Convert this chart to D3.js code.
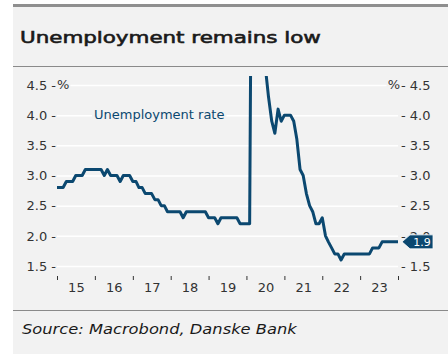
<!DOCTYPE html>
<html>
<head>
<meta charset="utf-8">
<script src="https://cdn.jsdelivr.net/npm/d3@7"></script>
<style>
  body { margin: 0; background: #fff; }
  svg text { font-family: "DejaVu Sans", sans-serif; }
</style>
</head>
<body>
<div id="chart"></div>
<script>
// monthly registered unemployment, Jan 2015 .. Jan 2024
const firstMonth = new Date(2015, 0, 1);
const rate2015 = [2.8, 2.8, 2.8, 2.9, 2.9, 2.9, 3.0, 3.0, 3.0, 3.1, 3.1, 3.1];
const rate2016 = [3.1, 3.1, 3.1, 3.0, 3.1, 3.0, 3.0, 3.0, 2.9, 3.0, 3.0, 3.0];
const rate2017 = [2.9, 2.9, 2.8, 2.8, 2.7, 2.7, 2.7, 2.6, 2.6, 2.5, 2.5, 2.4];
const rate2018 = [2.4, 2.4, 2.4, 2.4, 2.3, 2.4, 2.4, 2.4, 2.4, 2.4, 2.4, 2.4];
const rate2019 = [2.3, 2.3, 2.3, 2.2, 2.3, 2.3, 2.3, 2.3, 2.3, 2.3, 2.2, 2.2];
const rate2020 = [2.2, 2.2, 10.4, 10.7, 9.0, 5.5, 4.8, 4.3, 3.9, 3.7, 4.1, 3.9];
const rate2021 = [4.0, 4.0, 4.0, 3.9, 3.6, 3.1, 3.0, 2.7, 2.5, 2.4, 2.2, 2.2];
const rate2022 = [2.3, 2.0, 1.9, 1.8, 1.7, 1.7, 1.6, 1.7, 1.7, 1.7, 1.7, 1.7];
const rate2023 = [1.7, 1.7, 1.7, 1.7, 1.8, 1.8, 1.8, 1.9, 1.9, 1.9, 1.9, 1.9];
const rate2024 = [1.9];

const yTicks = [1.5, 2.0, 2.5, 3.0, 3.5, 4.0, 4.5];
const yearTicks = [2015, 2016, 2017, 2018, 2019, 2020, 2021, 2022, 2023, 2024];
const yearLabels = ["15", "16", "17", "18", "19", "20", "21", "22", "23"];
const lastLabel = "1.9";

const TITLE = "Unemployment remains low";
const LEGEND = "Unemployment rate";
const SOURCE = "Source: Macrobond, Danske Bank";

const W = 448, H = 354;
const LINE_COLOR = "#0b4870";
const TEXT_COLOR = "#333";

const allRates = [].concat(rate2015, rate2016, rate2017, rate2018, rate2019,
  rate2020, rate2021, rate2022, rate2023, rate2024);
const series = allRates.map((v, i) => ({ date: d3.timeMonth.offset(firstMonth, i), value: v }));

const svg = d3.select("#chart").append("svg")
  .attr("width", W)
  .attr("height", H);

// panel
svg.append("rect").attr("x", 13).attr("y", 4).attr("width", W - 13).attr("height", H - 4).attr("fill", "#f2f2f2");
svg.append("rect").attr("x", 13).attr("y", 4).attr("width", W - 13).attr("height", 3).attr("fill", "#8f8f8f");
svg.append("line").attr("x1", 13).attr("x2", W).attr("y1", 66.5).attr("y2", 66.5).attr("stroke", "#8a8a8a");
svg.append("line").attr("x1", 13).attr("x2", W).attr("y1", 310.5).attr("y2", 310.5).attr("stroke", "#8a8a8a");

// wide-ish heading: stretch the glyphs horizontally to the reference width
function stretchedText(txt, x0, y0, size, width, opts) {
  const t = svg.append("text")
    .attr("x", 0).attr("y", 0)
    .attr("font-size", size)
    .attr("fill", "#1a1a1a")
    .text(txt);
  if (opts.italic) t.attr("font-style", "italic");
  if (opts.stroke) t.attr("stroke", "#1a1a1a").attr("stroke-width", opts.stroke);
  const w = t.node().getComputedTextLength();
  t.attr("transform", `translate(${x0},${y0}) scale(${width / w},1)`);
  return t;
}

stretchedText(TITLE, 20, 43, 16, 301, { stroke: 0.6 });
stretchedText(SOURCE, 22, 334, 14.5, 275, { italic: true });

const x = d3.scaleTime()
  .domain([new Date(yearTicks[0], 0, 1), new Date(yearTicks[yearTicks.length - 1], 0, 1)])
  .range([57, 398]);

const y = d3.scaleLinear()
  .domain([1.5, 4.5])
  .range([266, 85]);

const fmt = d3.format(".1f");

// gridlines
svg.append("g")
  .attr("transform", "translate(57,0)")
  .call(d3.axisLeft(y).tickValues(yTicks).tickSize(-341).tickFormat(""))
  .call(g => g.select(".domain").remove())
  .call(g => g.selectAll("line").attr("stroke", "#fff").attr("stroke-width", 1.5));

// left axis
svg.append("g")
  .attr("transform", "translate(56,0)")
  .call(d3.axisLeft(y).tickValues(yTicks).tickSize(0).tickPadding(0).tickFormat(d => fmt(d) + " -"))
  .call(g => g.select(".domain").remove())
  .call(g => g.selectAll("text").attr("font-size", 13).attr("fill", TEXT_COLOR).attr("font-family", "DejaVu Sans"));

// right axis
svg.append("g")
  .attr("transform", "translate(401,0)")
  .call(d3.axisRight(y).tickValues(yTicks).tickSize(0).tickPadding(0).tickFormat(d => "- " + fmt(d)))
  .call(g => g.select(".domain").remove())
  .call(g => g.selectAll("text").attr("font-size", 13).attr("fill", TEXT_COLOR).attr("font-family", "DejaVu Sans"));

// % units
const pctLeft = svg.append("text").attr("x", 57).attr("y", y(4.5)).attr("dy", "0.32em")
  .attr("font-size", 13).attr("fill", TEXT_COLOR).text("%");
const pctRight = svg.append("text").attr("x", 400).attr("y", y(4.5)).attr("dy", "0.32em")
  .attr("text-anchor", "end").attr("font-size", 13).attr("fill", TEXT_COLOR).text("%");
[pctLeft, pctRight].forEach(t => {
  const b = t.node().getBBox();
  svg.insert("rect", () => t.node()).attr("x", b.x - 1).attr("y", b.y).attr("width", b.width + 2).attr("height", b.height).attr("fill", "#f2f2f2");
});

// x axis: year boundary ticks + mid-year labels
svg.append("g")
  .attr("transform", "translate(0,276)")
  .call(d3.axisBottom(x).tickValues(yearTicks.map(yr => new Date(yr, 0, 1))).tickSize(4).tickFormat(""))
  .call(g => g.select(".domain").remove())
  .call(g => g.selectAll("line").attr("stroke", "#333"));

svg.append("g")
  .attr("transform", "translate(0,283)")
  .call(d3.axisBottom(x).tickValues(yearLabels.map((l, i) => new Date(yearTicks[i], 6, 2))).tickSize(0).tickPadding(0)
    .tickFormat((d, i) => yearLabels[i]))
  .call(g => g.select(".domain").remove())
  .call(g => g.selectAll("text").attr("font-size", 13).attr("fill", TEXT_COLOR).attr("font-family", "DejaVu Sans"));

// legend
const leg = svg.append("text").attr("x", 94).attr("y", y(4.0)).attr("dy", "0.32em")
  .attr("font-size", 13).attr("fill", LINE_COLOR).text(LEGEND);
const lb = leg.node().getBBox();
svg.insert("rect", () => leg.node()).attr("x", lb.x - 2).attr("y", lb.y).attr("width", lb.width + 4).attr("height", lb.height).attr("fill", "#f2f2f2");

// line
svg.append("clipPath").attr("id", "plotclip")
  .append("rect").attr("x", 50).attr("y", 76).attr("width", 360).attr("height", 210);

const line = d3.line()
  .x(d => x(d.date))
  .y(d => y(d.value));

svg.append("path")
  .datum(series)
  .attr("clip-path", "url(#plotclip)")
  .attr("fill", "none")
  .attr("stroke", LINE_COLOR)
  .attr("stroke-width", 3)
  .attr("stroke-linejoin", "round")
  .attr("d", line);

// last value tag
const last = series[series.length - 1];
const tx = x(last.date) + 4, ty = y(last.value);
svg.append("path")
  .attr("d", `M${tx},${ty} L${tx + 8},${ty - 7} L${tx + 31},${ty - 7} L${tx + 31},${ty + 7} L${tx + 8},${ty + 7} Z`)
  .attr("fill", LINE_COLOR)
  .attr("stroke", "#fff")
  .attr("stroke-width", 0.8);
svg.append("text")
  .attr("x", tx + 20).attr("y", ty).attr("dy", "0.35em")
  .attr("text-anchor", "middle")
  .attr("font-size", 11).attr("fill", "#fff")
  .text(lastLabel);
</script>
</body>
</html>
